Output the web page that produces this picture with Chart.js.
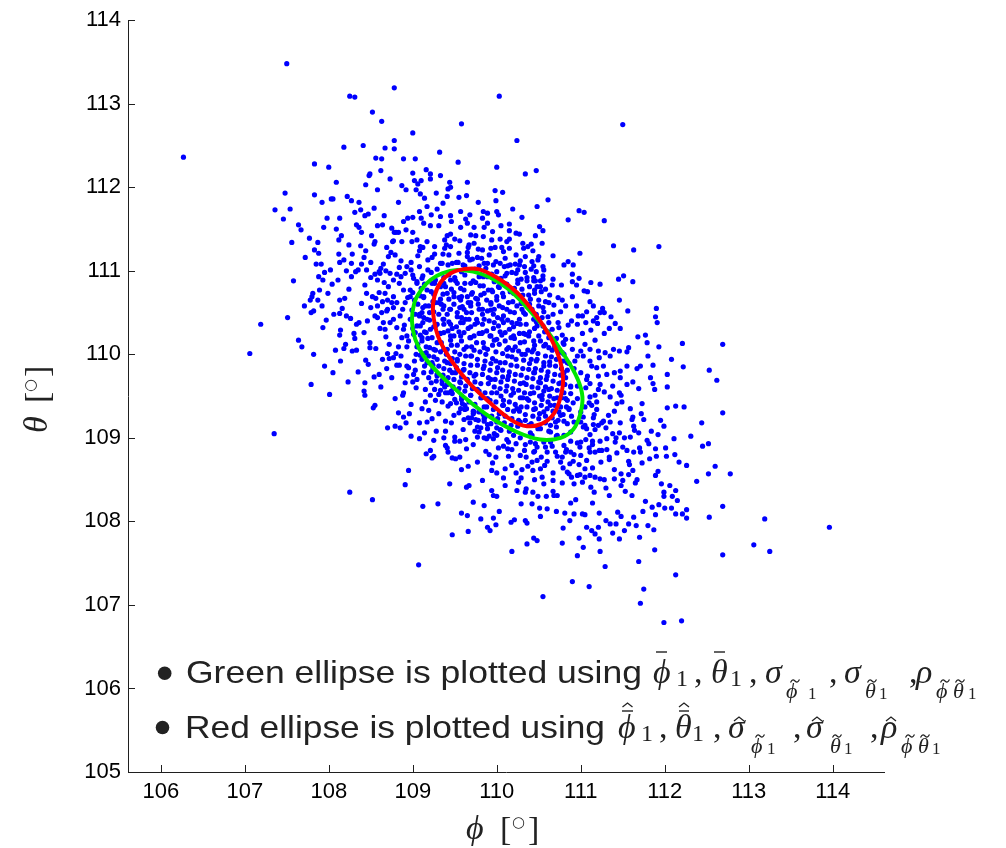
<!DOCTYPE html>
<html>
<head>
<meta charset="utf-8">
<title>phi-theta scatter</title>
<script src="https://cdn.jsdelivr.net/npm/chart.js@4"></script>
<style>
  html, body { margin: 0; padding: 0; background: #fff; }
  #wrap { width: 1006px; height: 848px; }
</style>
</head>
<body>
<div id="wrap"><canvas id="scatterChart" width="1006" height="848"></canvas></div>
<script>
// axis ranges and tick values
const xRange = [105.61, 114.61];
const yRange = [105, 114];
const xTicks = [106, 107, 108, 109, 110, 111, 112, 113, 114];
const yTicks = [105, 106, 107, 108, 109, 110, 111, 112, 113, 114];

const noteLines = ["Green ellipse is plotted using", "Red ellipse is plotted using"];

// outlines of the two ellipses, [phi, theta] in degrees
const greenEllipse = [
  [108.99, 110.40], [109.02, 110.62], [109.10, 110.77], [109.21, 110.89], [109.35, 110.97],
  [109.53, 111.01], [109.72, 110.99], [109.92, 110.92], [110.14, 110.78], [110.36, 110.56],
  [110.60, 110.28], [110.81, 109.98], [110.96, 109.71], [111.02, 109.49], [110.99, 109.27],
  [110.91, 109.10], [110.76, 109.00], [110.52, 108.98], [110.24, 109.07], [109.92, 109.25],
  [109.61, 109.49], [109.33, 109.75], [109.13, 109.98], [109.03, 110.18]
];
const redEllipse = [
  [109.24, 110.52], [109.26, 110.70], [109.33, 110.86], [109.45, 110.97], [109.61, 111.02],
  [109.78, 111.02], [110.00, 110.92], [110.24, 110.74], [110.46, 110.48], [110.64, 110.20],
  [110.75, 109.94], [110.79, 109.71], [110.76, 109.49], [110.68, 109.29], [110.54, 109.17],
  [110.36, 109.14], [110.18, 109.21], [109.92, 109.42], [109.66, 109.67], [109.45, 109.94],
  [109.30, 110.22]
];

// estimated (phi, theta) samples
const samples = [
  [106.27,112.36],
  [107.50,113.48],[108.78,113.19],[108.25,113.09],[108.31,113.08],[110.03,113.09],[108.52,112.90],[108.63,112.79],[109.58,112.76],[109.00,112.65],[110.24,112.56],
  [108.78,112.56],[108.78,112.46],[108.67,112.47],[108.41,112.50],[108.18,112.48],[109.32,112.42],[107.83,112.28],[108.00,112.24],[108.56,112.35],[108.63,112.34],
  [108.89,112.34],[109.03,112.34],[109.54,112.30],[110.00,112.24],[110.34,112.16],[108.62,112.20],[108.49,112.16],[108.48,112.14],[108.73,112.10],[109.00,112.17],
  [109.21,112.16],[109.21,112.10],[109.33,112.14],[109.02,112.08],[109.10,112.08],[109.06,112.04],[109.44,112.06],[109.45,112.00],[109.65,112.06],[108.92,111.97],
  [109.04,111.97],[109.09,111.92],[109.98,111.96],[110.07,111.94],[107.48,111.93],[107.83,111.91],[108.05,111.86],[108.03,111.86],[107.92,111.82],[108.27,111.84],
  [108.36,111.82],[108.83,111.82],[109.14,111.87],[109.41,111.89],[109.55,111.88],[109.64,111.90],[109.99,111.84],[107.36,111.73],[107.54,111.74],[107.46,111.62],
  [107.67,111.49],[107.56,111.34],[107.77,111.39],[107.83,111.25],[107.87,111.34],[107.88,111.21],[107.85,111.08],[107.91,111.08],[107.94,111.52],[108.09,111.50],
  [108.15,111.42],[108.13,111.63],[108.31,111.70],[108.38,111.73],[108.43,111.66],[108.47,111.68],[108.54,111.75],[108.58,111.54],[108.64,111.55],[108.66,111.66],
  [108.36,111.52],[108.39,111.46],[108.24,111.31],[108.38,111.30],[108.44,111.24],[108.54,111.32],[108.55,111.35],[108.28,111.20],[108.12,111.20],[108.13,111.10],
  [108.27,111.09],[108.39,111.08],[108.02,111.01],[108.21,111.00],[108.32,110.99],[108.35,111.01],[108.45,111.01],[108.50,111.10],[108.65,111.08],[108.71,111.17],
  [108.79,111.19],[108.76,111.35],[108.77,111.36],[108.78,111.46],[108.80,111.46],[108.75,111.51],[108.83,111.46],[108.89,111.59],[108.94,111.63],[109.00,111.64],
  [109.10,111.63],[109.17,111.77],[109.08,111.71],[109.29,111.74],[109.36,111.81],[109.21,111.54],[109.13,111.57],[109.00,111.46],[108.99,111.35],[109.05,111.37],
  [109.09,111.29],[109.12,111.28],[109.17,111.35],[109.31,111.54],[109.22,111.67],[109.33,111.65],[109.45,111.66],[109.57,111.71],[109.68,111.67],[109.46,111.59],
  [109.57,111.52],[109.65,111.57],[109.73,111.52],[109.84,111.71],[109.89,111.69],[109.83,111.63],[110.00,111.71],[110.02,111.67],[109.89,111.57],[109.85,111.52],
  [110.05,111.54],[110.15,111.56],[110.30,111.64],[110.15,111.48],[110.23,111.45],[110.27,111.44],[110.15,111.38],[110.04,111.38],[109.94,111.37],[109.84,111.41],
  [109.75,111.42],[109.69,111.43],[109.67,111.31],[109.66,111.28],[109.56,111.36],[109.45,111.44],[109.41,111.42],[109.38,111.37],[109.40,111.31],[109.45,111.29],
  [109.36,111.20],[109.43,111.19],[109.26,111.20],[109.26,111.29],[109.23,111.16],[109.33,111.09],[109.42,111.07],[109.47,111.09],[109.54,111.10],[109.65,111.22],
  [109.65,111.17],[109.68,111.13],[109.78,111.26],[109.77,111.16],[109.83,111.25],[109.93,111.27],[109.98,111.28],[110.06,111.28],[110.15,111.27],[110.23,111.19],
  [110.31,111.33],[110.37,111.29],[110.34,111.17],[110.27,111.07],[110.16,111.07],[110.04,111.09],[109.96,111.07],[109.89,111.09],[109.79,111.06],[110.12,110.97],
  [110.23,110.97],[110.34,110.98],[110.36,110.88],[110.25,110.89],[110.21,110.79],[110.31,110.71],
  [107.71,110.58],[107.78,110.65],[107.80,110.69],[107.81,110.73],[107.89,110.77],[107.87,110.65],[107.79,110.50],[107.82,110.52],[107.92,110.58],[107.99,110.73],
  [107.88,110.93],[107.93,110.89],[108.11,110.89],[108.13,110.65],[108.19,110.67],[108.06,110.48],[108.13,110.49],[108.21,110.46],[108.26,110.43],[107.97,110.41],
  [107.93,110.32],[108.13,110.23],[108.30,110.25],[108.31,110.19],[108.36,110.38],[108.42,110.26],[107.19,110.36],[107.64,110.17],[108.27,110.93],[108.43,110.83],
  [108.45,110.73],[108.50,110.56],[108.58,110.58],[108.56,110.67],[108.60,110.74],[108.50,110.92],[108.58,110.89],[108.60,110.99],[108.68,111.00],[108.73,110.97],
  [108.77,110.89],[108.81,110.96],[108.84,110.85],[108.93,111.05],[108.98,111.01],[109.00,110.95],[108.91,110.97],[108.67,110.73],[108.70,110.65],[108.77,110.69],
  [108.75,110.62],[108.63,110.50],[108.70,110.54],[108.77,110.56],[108.65,110.38],[108.73,110.38],[108.77,110.42],[108.67,110.30],[108.61,110.31],[108.85,110.46],
  [108.88,110.54],[108.91,110.62],[108.97,110.69],[108.89,110.77],[108.81,110.32],[108.89,110.30],[108.87,110.20],[108.93,110.22],
  [109.05,110.85],[109.11,110.91],[109.17,110.77],[109.13,110.69],[109.19,110.58],[109.11,110.50],[109.17,110.42],[109.09,110.34],[109.16,110.26],[109.11,110.20],
  [109.37,110.85],[109.45,110.89],[109.53,110.85],[109.61,110.77],[109.69,110.85],[109.79,110.93],[109.89,110.93],[109.41,110.73],[109.49,110.69],[109.57,110.65],
  [109.65,110.69],[109.75,110.67],[109.85,110.73],[109.94,110.77],[110.02,110.81],[110.08,110.69],[110.00,110.65],[109.93,110.62],[109.37,110.58],[109.45,110.54],
  [109.53,110.50],[109.61,110.54],[109.69,110.58],[109.79,110.54],[109.89,110.52],[109.97,110.54],[110.12,110.54],[110.24,110.58],[110.32,110.50],[109.37,110.42],
  [109.45,110.36],[109.57,110.38],[109.67,110.42],[109.77,110.38],[109.85,110.42],[109.97,110.38],[110.06,110.42],[110.18,110.38],[110.28,110.36],[109.37,110.26],
  [109.49,110.22],[109.61,110.26],[109.73,110.22],[109.83,110.26],[109.93,110.22],[110.00,110.18],[110.10,110.26],[110.20,110.22],[110.34,110.24],[109.31,110.62],
  [109.27,110.34],[108.97,110.42],[109.03,110.26],[109.23,110.85],
  [111.50,112.75],[110.47,112.20],[110.61,111.85],[110.48,111.77],[110.98,111.72],[111.04,111.70],[110.85,111.61],[111.28,111.60],[110.51,111.53],[110.55,111.48],
  [110.46,111.42],[110.54,111.33],[110.41,111.32],[110.67,111.18],[110.99,111.21],[111.39,111.30],[111.63,111.25],[111.93,111.29],[110.43,111.24],[110.50,111.17],
  [110.49,111.13],[110.44,111.06],[110.55,111.05],[110.56,111.01],[110.80,111.07],[110.85,111.11],[110.91,111.07],[110.90,110.96],[110.55,110.94],[110.48,110.81],
  [110.67,110.90],[110.66,110.83],[110.52,110.88],[110.98,110.91],[110.90,110.87],[110.95,110.83],[111.12,110.86],[111.23,110.84],[111.45,110.90],[111.51,110.94],
  [111.62,110.87],[110.77,110.83],[110.53,110.75],[110.63,110.71],[110.73,110.68],[110.78,110.65],[110.45,110.73],[111.04,110.76],[111.08,110.75],[110.90,110.69],
  [111.46,110.65],[110.82,110.58],[110.95,110.58],[111.15,110.58],[111.26,110.55],[111.90,110.55],[111.89,110.45],[111.91,110.38],[110.56,110.51],[110.67,110.48],
  [110.76,110.51],[110.89,110.40],[110.97,110.46],[111.02,110.46],[111.07,110.51],[111.19,110.44],[111.15,110.40],[111.23,110.50],[111.28,110.50],[111.20,110.37],
  [110.85,110.35],[110.96,110.36],[111.06,110.38],[111.34,110.31],[111.41,110.37],[111.47,110.31],[111.77,110.23],[111.28,110.25],[111.02,110.25],[110.90,110.18],
  [111.17,110.17],[110.78,110.23],[110.61,110.27],[110.48,110.34],[110.44,110.42],[110.73,110.38],
  [107.06,110.01],[107.82,110.00],[107.35,109.05],[107.79,109.64],[108.01,109.52],[108.05,109.78],[108.14,109.92],[108.08,110.05],[108.18,110.07],[108.33,110.05],
  [108.20,110.12],[108.43,109.66],[108.42,109.56],[108.43,109.51],[108.53,109.36],[108.55,109.39],[108.54,109.73],[108.60,109.76],[108.44,109.93],[108.49,110.08],
  [108.56,110.07],[108.64,109.94],[108.69,109.83],[108.70,110.01],[108.75,109.72],[108.72,109.95],[108.77,109.96],[108.81,109.87],[108.84,109.87],[108.86,109.98],
  [108.83,109.30],[108.89,109.25],[108.92,109.18],[108.70,109.12],[108.79,109.14],[108.85,109.12],[108.98,109.02],[108.91,109.66],[108.89,109.54],[108.88,109.51],
  [108.93,109.74],[108.98,109.40],[109.04,109.60],[109.00,109.67],[109.01,109.76],[109.03,109.81],[108.95,109.84],[109.02,109.92],[108.93,110.09],[109.04,110.00],
  [108.95,108.61],[108.91,108.44],[108.25,108.35],[108.52,108.26],[109.12,108.18],[109.30,108.21],[109.07,107.48],[109.47,107.84],[109.66,107.88],[109.58,108.10],
  [109.65,108.07],[109.44,108.45],[109.64,108.41],[109.67,108.43],[109.72,108.23],[109.85,108.19],[109.81,108.03],[109.89,107.93],[109.92,107.89],[109.99,107.96],
  [110.18,107.64],[110.17,107.99],[110.34,108.01],[110.36,107.73],[110.29,108.21],[110.24,108.37],[110.34,108.35],[110.35,108.39],[110.10,108.43],[109.94,108.37],
  [110.00,108.30],[109.96,108.31],[109.94,108.61],[110.00,108.58],[110.10,108.63],[110.23,108.58],[110.30,108.62],[110.37,108.66],[110.18,108.67],[110.29,108.52],
  [110.08,108.52],[109.58,108.62],[109.66,108.66],[109.47,108.76],[109.51,108.75],[109.56,108.77],[109.23,108.76],[109.25,108.78],[109.16,108.81],[109.21,108.85],
  [109.42,108.83],[109.41,108.88],[109.39,108.91],[109.64,108.87],[109.63,108.98],[109.50,109.01],[109.56,108.96],[109.39,109.08],[109.37,109.00],[109.28,109.08],
  [109.25,108.97],[109.14,109.06],[109.08,108.99],[109.08,109.18],[109.17,109.19],[109.23,109.23],[109.31,109.29],[109.39,109.20],[109.46,109.18],[109.61,109.22],
  [109.77,109.01],[109.79,109.07],[109.74,109.08],[109.89,109.11],[109.91,109.02],[109.88,108.99],[109.96,108.99],[110.00,109.03],[110.05,109.09],[110.14,108.95],
  [110.13,108.87],[110.08,108.90],[110.28,108.79],[110.33,108.85],[110.34,108.92],[109.87,108.84],[109.91,108.80],[109.99,108.77],[110.23,108.93],
  [109.11,109.94],[109.13,109.78],[109.15,109.58],[109.15,109.43],[109.11,109.35],[109.19,109.33],[109.21,109.51],[109.26,109.58],[109.29,109.74],[109.23,109.90],
  [109.35,109.43],[109.39,109.54],[109.45,109.41],[109.49,109.27],[109.57,109.35],[109.66,109.24],[109.73,109.31],[109.77,109.13],[109.85,109.23],[109.41,109.90],
  [109.47,109.78],[109.53,109.94],[109.57,109.66],[109.61,109.82],[109.69,109.98],[109.73,109.74],[109.77,109.58],[109.85,109.86],[109.93,109.70],[109.89,109.47],
  [110.00,109.54],[110.04,109.90],[110.14,109.74],[110.08,109.39],[110.20,109.54],[110.24,109.35],[110.32,109.66],[110.30,110.00],[109.61,110.06],[109.85,110.08],
  [110.12,110.06],[110.36,109.47],[110.28,109.19],[110.38,109.15],[109.69,109.51],[109.37,110.06],[109.25,110.06],[109.05,109.70],
  [113.96,107.93],[112.69,110.12],[112.21,110.13],[111.93,110.09],[112.53,109.81],[112.62,109.69],[112.22,109.85],[112.69,109.30],[112.44,109.18],[112.52,108.93],
  [112.45,108.90],[112.60,108.66],[112.52,108.57],[112.78,108.57],[112.69,108.18],[112.53,108.05],[113.19,108.03],[113.06,107.72],[113.25,107.64],[112.69,107.60],
  [112.26,108.67],[112.26,108.14],[112.26,108.04],[112.21,108.09],[112.13,108.09],[112.13,107.36],[112.20,106.81],[111.99,106.79],[111.71,107.02],[111.75,107.19],
  [111.69,107.52],[111.88,107.66],[111.29,107.46],[111.23,107.64],[111.10,107.22],[110.90,107.28],[110.96,107.59],[111.03,107.69],[110.78,107.74],[110.55,107.10],
  [110.48,107.77],[110.44,107.80],[111.22,107.79],[110.98,107.80],[111.17,107.85],[111.07,107.93],[111.13,107.89],[111.21,107.93],[111.46,107.79],[111.52,107.89],
  [111.57,107.97],[111.66,107.95],[111.70,107.81],[111.80,107.95],[111.87,107.90],[111.35,107.97],[111.30,108.01],[111.42,107.97],[111.48,108.06],[111.44,108.11],
  [111.22,108.10],[111.02,108.09],[111.05,108.08],[110.92,108.09],[110.87,108.01],[110.81,108.10],[110.88,108.22],[111.14,108.22],[110.60,108.15],[110.51,108.16],
  [110.52,108.06],[111.74,108.12],[111.89,108.08],[111.85,108.17],[111.93,108.20],[112.00,108.16],[112.08,108.16],[112.13,108.37],[112.09,108.30],[112.06,108.43],
  [111.99,108.35],[111.99,108.30],[111.77,108.24],[111.61,108.31],[111.53,108.36],[111.67,108.50],[111.65,108.46],[111.48,108.43],[111.40,108.51],[111.48,108.57],
  [111.28,108.50],[111.30,108.40],[111.23,108.51],[111.16,108.35],[111.11,108.55],[111.17,108.53],[111.05,108.53],[110.99,108.56],[111.02,108.47],[110.92,108.45],
  [110.96,108.55],[110.89,108.53],[110.86,108.57],[110.78,108.46],[110.72,108.31],[110.68,108.31],[110.67,108.36],[110.59,108.30],[110.49,108.30],[110.43,108.35],
  [110.56,108.45],[110.54,108.53],[110.45,108.50],[110.43,108.61],[110.52,108.63],[110.57,108.67],[110.48,108.73],[110.42,108.71],[110.67,108.49],[110.79,108.64],
  [110.84,108.59],[111.05,108.63],[111.14,108.64],[111.40,108.62],[111.50,108.49],[111.62,108.61],[111.89,108.55],[111.92,108.60],[112.12,108.80],[112.02,108.78],
  [111.90,108.78],[111.82,108.75],[111.70,108.88],[111.71,108.83],[111.63,108.83],[111.58,108.68],[111.57,108.72],[111.55,108.85],[111.50,108.89],[111.64,109.09],
  [111.59,109.01],[111.63,109.14],[111.61,109.22],[111.62,109.25],[111.52,109.00],[111.46,109.06],[111.42,109.00],[111.38,109.05],[111.41,108.95],[111.31,108.99],
  [111.35,109.19],[111.27,109.20],[111.21,109.15],[111.25,109.18],[111.15,109.16],[111.15,109.24],[111.23,108.96],[111.14,108.96],[111.10,108.88],[111.11,108.83],
  [111.17,108.83],[111.22,108.85],[111.31,108.86],[111.34,108.77],[111.34,108.74],[111.00,108.79],[110.92,108.80],[110.88,108.83],[110.82,108.83],[110.78,108.77],
  [110.76,108.71],[110.91,108.72],[111.07,108.73],[110.99,108.89],[111.00,108.95],[110.80,108.91],[110.70,108.83],[110.60,108.83],[110.58,108.89],[110.64,108.95],
  [110.56,108.95],[110.48,108.89],[110.44,108.83],[110.72,109.03],[111.11,109.04],[111.17,109.10],[111.07,109.11],[111.05,109.15],[111.00,109.19],[111.03,109.25],
  [111.00,109.31],[111.05,109.37],[111.13,109.39],[111.19,109.43],[111.11,109.49],[111.17,109.51],[111.21,109.58],[111.23,109.64],[111.11,109.65],[111.07,109.70],
  [111.21,109.74],[111.19,109.84],[111.13,109.86],[111.11,109.92],[111.03,109.98],[111.00,110.04],[111.11,110.06],[111.21,110.04],[111.29,110.02],[111.35,109.98],
  [111.39,110.06],[111.46,110.04],[111.55,110.03],[111.57,110.08],[111.79,110.14],[111.80,109.98],[111.71,109.86],[111.67,109.83],[111.55,109.86],[111.47,109.80],
  [111.40,109.78],[111.31,109.76],[111.47,109.72],[111.55,109.64],[111.62,109.67],[111.46,109.54],[111.35,109.49],[111.49,109.43],[111.43,109.41],[111.59,109.35],
  [111.73,109.41],[111.69,109.59],[111.86,109.87],[111.86,109.65],[111.88,109.58],[112.03,109.76],[112.03,109.61],[112.03,109.36],[112.13,109.38],[112.23,109.37],
  [111.99,109.14],[111.75,109.22],[111.84,109.08],[111.92,109.04],[112.11,108.99],[111.89,108.87],[111.79,108.97],
  [110.44,110.06],[110.56,110.10],[110.48,109.94],[110.56,109.86],[110.44,109.78],[110.52,109.66],[110.60,109.74],[110.44,109.54],[110.54,109.51],[110.62,109.58],
  [110.46,109.35],[110.56,109.31],[110.64,109.39],[110.68,109.47],[110.76,109.66],[110.80,109.78],[110.84,109.90],[110.88,109.62],[110.82,109.47],[110.86,109.35],
  [110.76,109.27],[110.70,109.19],[110.84,109.17],[110.96,109.47],[110.96,109.62],[111.00,109.78],[110.96,109.98],[110.90,110.06],[110.80,110.12],[110.64,109.07],
  [110.52,109.11],[110.42,109.03],[110.88,109.07],[110.92,109.19],[110.80,109.03],
  // upper-left shoulder
  [108.12,111.37],[108.33,111.55],[108.51,111.42],[108.69,111.28],[108.92,111.49],[109.06,111.18],[108.18,111.13],[108.42,111.16],[108.61,110.97],[108.86,111.12],
  [108.04,110.84],[108.24,110.78],[108.39,110.61],[108.55,110.46],[108.71,110.81],[108.94,110.68],[108.16,110.55],[108.33,110.36],[108.49,110.14],[108.68,110.21],
  [108.83,110.09],[108.28,110.04],[108.47,109.88],[108.62,109.61],[108.79,109.47],[108.96,109.29],[108.35,109.79],[108.14,110.29],[107.95,110.98],[107.72,111.16],
  [107.98,111.63],[108.22,111.89],[108.58,111.97],[108.87,112.02],[109.16,112.21],[109.42,111.98],[108.44,112.03],[108.09,112.06],[107.64,111.55],[107.58,110.88],
  [107.51,110.44],[107.68,110.09],[107.95,109.86],[108.23,109.67],[109.78,111.82],[110.19,111.74],[109.28,111.93],[109.63,111.62],[109.95,111.47],[110.32,111.27],
  [110.44,110.92],[110.10,111.15],
  // lower-right shoulder
  [110.63,109.91],[110.78,110.02],[110.92,109.83],[111.08,109.74],[111.27,109.86],[111.38,109.62],[111.19,109.34],[111.33,109.27],[111.47,109.18],[111.69,109.06],
  [111.81,108.93],[111.06,108.98],[110.87,108.69],[110.67,108.58],[111.24,108.71],[111.43,108.82],[111.73,108.70],[112.01,108.88],[112.17,108.71],[111.96,108.45],
  [111.57,108.56],[111.34,108.31],[111.12,108.41],[110.94,108.26],[110.71,108.12],[110.42,108.21],[110.21,108.02],[110.03,108.12],[110.26,108.47],[110.53,108.77],
  [109.83,108.49],[109.77,108.71],[110.14,108.78],[110.46,108.93],[110.71,109.02],[111.48,109.51],[111.72,109.29],[111.95,109.21],[112.31,109.02],[112.38,108.48],
  [112.15,108.25],[111.63,108.05],[111.38,107.86],[110.79,107.92],[110.36,107.98],[109.96,108.04],[111.83,109.72],[112.08,109.94],[111.68,110.21],[111.36,110.45],
  [111.56,110.52],[111.11,110.63],
  // band between and around the ellipses
  [109.05,110.09],[109.14,109.86],[109.22,109.66],[109.31,109.52],[109.42,109.38],[109.55,109.30],[109.68,109.18],[109.81,109.12],[109.97,109.05],[110.12,108.98],
  [109.09,109.99],[109.19,109.72],[109.27,109.45],[109.38,109.61],[109.50,109.46],[109.62,109.34],[109.75,109.22],[109.89,109.16],[110.04,109.10],[110.20,109.03],
  [109.01,110.24],[109.08,110.48],[109.16,110.02],[109.24,109.83],[109.35,109.69],[109.46,109.56],[109.59,109.41],[109.72,109.29],[109.86,109.25],[110.00,109.19],
  [108.58,110.44],[108.66,110.86],[108.72,110.12],[108.81,110.62],[108.86,110.93],[108.90,110.35],[108.95,110.16],[108.62,111.03],[108.74,111.22],[108.87,111.35],
  [108.52,110.69],[108.69,110.52],[108.80,110.01],[108.93,109.86],[108.98,111.10],[109.08,111.24],[108.55,110.96],[108.46,110.40],[108.84,111.04],[108.64,110.63],
  [109.38,111.27],[109.55,111.21],[109.73,111.33],[109.91,111.19],[110.08,111.23],[110.22,111.08],[110.42,111.11],[110.47,110.99],[110.58,110.78],[110.68,110.59],
  [109.50,111.38],[109.82,111.15],[110.12,111.35],[110.33,111.05],[110.55,110.90],
  [111.06,109.60],[111.10,109.42],[111.03,109.13],[110.96,108.94],[110.83,108.86],[110.66,108.90],[110.45,108.84],[110.28,109.00],[110.93,109.92],[110.82,110.18],
  [111.16,109.28],[111.22,109.96],[111.28,109.55],[111.14,108.92],[110.88,108.96],[110.60,108.72],[110.35,108.77],[111.30,109.12],[111.05,110.12],[110.74,110.32],
  [111.40,109.32],[111.25,108.85],[110.98,108.68],[110.72,108.78],[111.12,110.29],
  [109.72,108.92],[109.85,109.00],[110.02,108.88],[110.18,108.86],[109.95,108.70],[110.40,108.95],[109.60,109.10],[109.50,108.96],
  // dense core
  [109.18,111.13],[109.52,111.10],[109.71,111.14],[109.99,111.11],[110.28,111.12],
  [109.08,111.05],[109.29,111.02],[109.62,111.06],[109.87,111.03],[110.09,111.05],[110.41,111.02],
  [109.22,110.98],[109.43,110.95],[109.58,110.99],[109.94,110.96],[110.18,110.98],
  [109.01,110.91],[109.27,110.89],[109.50,110.92],[109.72,110.88],[110.05,110.91],[110.29,110.90],[110.46,110.88],
  [109.14,110.84],[109.33,110.81],[109.62,110.85],[109.84,110.82],[110.12,110.84],[110.39,110.81],
  [108.97,110.77],[109.22,110.75],[109.46,110.78],[109.71,110.74],[109.90,110.77],[110.16,110.75],[110.45,110.77],
  [109.09,110.70],[109.36,110.72],[109.58,110.69],[109.81,110.71],[110.07,110.73],[110.27,110.70],
  [109.02,110.65],[109.24,110.63],[109.43,110.66],[109.66,110.62],[109.88,110.65],[110.19,110.63],[110.40,110.66],[110.58,110.63],
  [109.15,110.58],[109.34,110.60],[109.59,110.57],[109.78,110.60],[110.03,110.58],[110.29,110.61],[110.50,110.58],
  [108.99,110.53],[109.25,110.51],[109.44,110.54],[109.70,110.50],[109.93,110.53],[110.16,110.51],[110.42,110.54],
  [109.08,110.46],[109.31,110.48],[109.53,110.45],[109.83,110.48],[110.08,110.46],[110.34,110.48],[110.61,110.45],
  [109.20,110.41],[109.43,110.39],[109.63,110.42],[109.91,110.40],[110.13,110.41],[110.47,110.39],
  [109.05,110.34],[109.29,110.36],[109.52,110.33],[109.74,110.36],[110.02,110.34],[110.24,110.37],[110.55,110.34],
  [109.21,110.30],[109.42,110.28],[109.66,110.31],[109.88,110.28],[110.15,110.30],[110.39,110.27],[110.66,110.30],
  [109.09,110.23],[109.32,110.25],[109.57,110.22],[109.79,110.25],[110.06,110.23],[110.27,110.25],[110.50,110.22],
  [109.18,110.19],[109.45,110.17],[109.69,110.20],[109.97,110.17],[110.21,110.19],[110.44,110.16],[110.71,110.19],
  [109.06,110.12],[109.29,110.14],[109.53,110.11],[109.76,110.14],[110.03,110.12],[110.33,110.15],[110.58,110.12],
  [109.20,110.08],[109.41,110.06],[109.64,110.09],[109.89,110.06],[110.14,110.08],[110.37,110.05],[110.62,110.08],
  [109.12,110.01],[109.33,110.03],[109.56,110.00],[109.80,110.03],[110.07,110.01],[110.26,110.04],[110.49,110.01],[110.73,110.03],
  [109.25,109.97],[109.47,109.95],[109.70,109.98],[109.95,109.95],[110.18,109.97],[110.41,109.94],[110.65,109.97],
  [109.17,109.90],[109.38,109.92],[109.61,109.89],[109.86,109.92],[110.10,109.90],[110.32,109.93],[110.56,109.90],[110.79,109.92],
  [109.31,109.86],[109.52,109.84],[109.77,109.87],[110.01,109.84],[110.24,109.86],[110.46,109.83],[110.70,109.86],
  [109.22,109.79],[109.44,109.81],[109.68,109.78],[109.92,109.81],[110.15,109.79],[110.38,109.82],[110.61,109.79],[110.84,109.81],
  [109.36,109.75],[109.58,109.73],[109.83,109.76],[110.07,109.73],[110.29,109.75],[110.52,109.72],[110.76,109.75],
  [109.28,109.68],[109.49,109.70],[109.74,109.67],[109.98,109.70],[110.21,109.68],[110.43,109.71],[110.67,109.68],
  [109.41,109.64],[109.63,109.62],[109.90,109.65],[110.12,109.62],[110.35,109.64],[110.58,109.61],[110.81,109.64],
  [109.33,109.57],[109.55,109.59],[109.79,109.56],[110.04,109.59],[110.26,109.57],[110.49,109.60],[110.72,109.57],
  [109.47,109.53],[109.69,109.51],[109.94,109.54],[110.17,109.51],[110.40,109.53],[110.63,109.50],[110.88,109.53],
  [109.58,109.46],[109.82,109.48],[110.08,109.45],[110.31,109.48],[110.54,109.46],[110.77,109.48],
  [109.52,109.42],[109.74,109.40],[109.99,109.43],[110.22,109.40],[110.45,109.42],[110.69,109.39],[110.91,109.42],
  [109.64,109.35],[109.88,109.37],[110.13,109.34],[110.36,109.37],[110.60,109.35],[110.83,109.37],
  [109.79,109.31],[110.03,109.29],[110.27,109.32],[110.51,109.29],[110.74,109.31],
  [109.70,109.24],[109.94,109.26],[110.18,109.23],[110.43,109.26],[110.66,109.24],[110.89,109.26],
  [109.85,109.20],[110.09,109.18],[110.34,109.21],[110.58,109.18],[110.80,109.20],
  [110.00,109.12],[110.25,109.14],[110.49,109.11],[110.71,109.13],
  [110.15,109.08],[110.40,109.06],[110.62,109.08],
  [109.35,111.09],[109.60,111.07],[109.85,111.09],[110.13,111.06],
  [109.18,111.01],[109.46,110.99],[109.74,111.02],[110.00,110.99],[110.25,111.01],
  [109.12,110.94],[109.37,110.92],[109.62,110.95],[109.84,110.93],[110.10,110.94],[110.36,110.92],
  [109.05,110.87],[109.26,110.85],[109.51,110.88],[109.75,110.86],[109.97,110.87],[110.25,110.85],[110.44,110.88],
  [109.10,110.79],[109.39,110.81],[109.57,110.79],[109.80,110.82],[110.03,110.80],[110.30,110.78],[110.52,110.81],
  [109.00,110.74],[109.25,110.72],[109.49,110.74],[109.70,110.72],[109.95,110.75],[110.20,110.73],[110.38,110.71],
  [109.13,110.68],[109.33,110.66],[109.55,110.68],[109.77,110.66],[110.00,110.69],[110.28,110.67],[110.50,110.65],
  [109.06,110.60],[109.27,110.62],[109.49,110.60],[109.69,110.62],[109.93,110.60],[110.14,110.62],[110.39,110.60],[110.62,110.62],
  [109.12,110.56],[109.36,110.54],[109.56,110.56],[109.83,110.54],[110.07,110.56],[110.30,110.54],[110.55,110.56],
  [109.03,110.48],[109.20,110.50],[109.41,110.48],[109.64,110.50],[109.96,110.48],[110.21,110.50],[110.47,110.48],
  [109.13,110.44],[109.36,110.42],[109.58,110.44],[109.76,110.42],[110.01,110.44],[110.27,110.42],[110.54,110.44],
  [109.12,110.38],[109.37,110.36],[109.60,110.38],[109.83,110.36],[110.08,110.38],[110.35,110.36],[110.62,110.38],
  [109.00,110.31],[109.25,110.33],[109.47,110.31],[109.69,110.33],[109.96,110.31],[110.20,110.33],[110.45,110.31],
  [109.14,110.27],[109.33,110.25],[109.55,110.27],[109.82,110.25],[110.04,110.27],[110.32,110.25],[110.57,110.27],
  [109.23,110.20],[109.45,110.22],[109.68,110.20],[109.92,110.22],[110.17,110.20],[110.38,110.22],[110.62,110.20],
  [109.11,110.16],[109.34,110.14],[109.58,110.16],[109.84,110.14],[110.10,110.16],[110.28,110.14],[110.52,110.16],[110.79,110.14],
  [109.16,110.09],[109.46,110.11],[109.70,110.09],[109.95,110.11],[110.22,110.09],[110.45,110.11],[110.69,110.09],
  [109.27,110.05],[109.50,110.03],[109.73,110.05],[109.99,110.03],[110.19,110.05],[110.42,110.03],[110.66,110.05],
  [109.19,109.98],[109.40,110.00],[109.63,109.98],[109.87,110.00],[110.13,109.98],[110.34,110.00],[110.58,109.98],[110.80,110.00],
  [109.29,109.94],[109.53,109.92],[109.77,109.94],[109.99,109.92],[110.23,109.94],[110.47,109.92],[110.71,109.94],
  [109.24,109.87],[109.45,109.89],[109.69,109.87],[109.93,109.89],[110.17,109.87],[110.39,109.89],[110.63,109.87],[110.86,109.89],
  [109.37,109.83],[109.60,109.81],[109.84,109.83],[110.07,109.81],[110.31,109.83],[110.53,109.81],[110.77,109.83],
  [109.29,109.76],[109.51,109.78],[109.75,109.76],[110.00,109.78],[110.22,109.76],[110.45,109.78],[110.69,109.76],
  [109.42,109.72],[109.65,109.70],[109.90,109.72],[110.13,109.70],[110.36,109.72],[110.59,109.70],[110.82,109.72],
  [109.35,109.65],[109.56,109.67],[109.81,109.65],[110.05,109.67],[110.28,109.65],[110.50,109.67],[110.74,109.65],
  [109.48,109.61],[109.71,109.59],[109.97,109.61],[110.19,109.59],[110.42,109.61],[110.65,109.59],[110.88,109.61],
  [109.42,109.54],[109.62,109.56],[109.86,109.54],[110.11,109.56],[110.33,109.54],[110.56,109.56],[110.80,109.54],
  [109.58,109.50],[109.81,109.48],[110.05,109.50],[110.28,109.48],[110.51,109.50],[110.72,109.48],
  [109.67,109.43],[109.92,109.45],[110.15,109.43],[110.38,109.45],[110.61,109.43],[110.84,109.45],
  [109.62,109.39],[109.85,109.37],[110.07,109.39],[110.29,109.37],[110.53,109.39],[110.76,109.37],
  [109.72,109.32],[109.96,109.34],[110.20,109.32],[110.44,109.34],[110.67,109.32],[110.86,109.34],
  [109.84,109.28],[110.10,109.26],[110.34,109.28],[110.58,109.26],[110.79,109.28],
  [109.78,109.21],[110.01,109.23],[110.26,109.21],[110.50,109.23],[110.73,109.21],
  [109.93,109.17],[110.17,109.15],[110.41,109.17],[110.64,109.15]
];

const axisColor = "#1f1f1f";
const textColor = "#222";
const sans = '"Liberation Sans", Arial, sans-serif';
const serif = '"Liberation Serif", "DejaVu Serif", serif';

// repeat neighbours so the smoothed outline closes without a corner
function closedLoop(pts) {
  const n = pts.length;
  const ring = [pts[n - 1], ...pts, pts[0], pts[1]];
  return ring.map(([x, y]) => ({ x, y }));
}

function hideEnds(count) {
  return (ctx) => (ctx.p0DataIndex === 0 || ctx.p1DataIndex === count - 1 ? "rgba(0,0,0,0)" : undefined);
}

function bar(ctx, x1, x2, y) {
  ctx.fillRect(x1, y - 0.7, x2 - x1, 1.4);
}

function hat(ctx, xc, y, w) {
  ctx.beginPath();
  ctx.moveTo(xc - w / 2, y + 3);
  ctx.lineTo(xc, y - 1);
  ctx.lineTo(xc + w / 2, y + 3);
  ctx.stroke();
}

function tilde(ctx, xc, y, w) {
  ctx.beginPath();
  ctx.moveTo(xc - w / 2, y + 1.5);
  ctx.bezierCurveTo(xc - w / 4, y - 2.5, xc - w / 8, y - 1, xc, y);
  ctx.bezierCurveTo(xc + w / 8, y + 1, xc + w / 4, y + 2.5, xc + w / 2, y - 1.5);
  ctx.stroke();
}

function glyph(ctx, s, x, y, size, italic, family) {
  ctx.font = (italic ? "italic " : "") + size + "px " + (family || serif);
  ctx.fillText(s, x, y);
}

// sans text stretched to the width it takes in the figure
function note(ctx, s, x, y, width) {
  ctx.save();
  ctx.font = "32px " + sans;
  const w = ctx.measureText(s).width;
  ctx.translate(x, y);
  ctx.scale(width / w, 1);
  ctx.fillText(s, 0, 0);
  ctx.restore();
}

// inline math after each note line
function drawMathLine1(ctx, b) {
  glyph(ctx, "ϕ", 653, b, 34, true); bar(ctx, 656, 667, b - 31);
  glyph(ctx, "1", 676, b + 3, 24);
  glyph(ctx, ",", 694, b, 34);
  glyph(ctx, "θ", 711, b, 34, true); bar(ctx, 714, 725, b - 31);
  glyph(ctx, "1", 730, b + 3, 24);
  glyph(ctx, ",", 749, b, 34);
  glyph(ctx, "σ", 765, b, 34, true);
  glyph(ctx, "ϕ", 786, b + 15, 22, true); tilde(ctx, 795, b - 2, 9);
  glyph(ctx, "1", 808, b + 16, 17);
  glyph(ctx, ",", 829, b, 34);
  glyph(ctx, "σ", 844, b, 34, true);
  glyph(ctx, "θ", 865, b + 15, 22, true); tilde(ctx, 872, b - 2, 9);
  glyph(ctx, "1", 879, b + 16, 17);
  glyph(ctx, ",", 909, b, 34);
  glyph(ctx, "ρ", 916, b, 34, true);
  glyph(ctx, "ϕ", 936, b + 15, 22, true); tilde(ctx, 945, b - 2, 9);
  glyph(ctx, "θ", 953, b + 15, 22, true); tilde(ctx, 960, b - 2, 9);
  glyph(ctx, "1", 968, b + 16, 17);
}

function drawMathLine2(ctx, b) {
  glyph(ctx, "ϕ", 618, b, 34, true); bar(ctx, 622, 633, b - 27); hat(ctx, 627.5, b - 34, 10);
  glyph(ctx, "1", 641, b + 3, 24);
  glyph(ctx, ",", 659, b, 34);
  glyph(ctx, "θ", 675, b, 34, true); bar(ctx, 679, 689, b - 27); hat(ctx, 684, b - 34, 10);
  glyph(ctx, "1", 692, b + 3, 24);
  glyph(ctx, ",", 713, b, 34);
  glyph(ctx, "σ", 728, b, 34, true); hat(ctx, 739, b - 20, 10);
  glyph(ctx, "ϕ", 751, b + 15, 22, true); tilde(ctx, 760, b - 2, 9);
  glyph(ctx, "1", 767, b + 16, 17);
  glyph(ctx, ",", 793, b, 34);
  glyph(ctx, "σ", 806, b, 34, true); hat(ctx, 817, b - 20, 10);
  glyph(ctx, "θ", 830, b + 15, 22, true); tilde(ctx, 837, b - 2, 9);
  glyph(ctx, "1", 844, b + 16, 17);
  glyph(ctx, ",", 870, b, 34);
  glyph(ctx, "ρ", 881, b, 34, true); hat(ctx, 891, b - 20, 10);
  glyph(ctx, "ϕ", 901, b + 15, 22, true); tilde(ctx, 910, b - 2, 9);
  glyph(ctx, "θ", 918, b + 15, 22, true); tilde(ctx, 925, b - 2, 9);
  glyph(ctx, "1", 932, b + 16, 17);
}

const overlay = {
  id: "overlay",
  afterDraw(chart) {
    const { ctx, chartArea, scales } = chart;
    ctx.save();

    // tick marks pointing into the plot
    ctx.strokeStyle = axisColor;
    ctx.lineWidth = 1;
    ctx.beginPath();
    xTicks.forEach((v) => {
      const px = Math.round(scales.x.getPixelForValue(v)) + 0.5;
      ctx.moveTo(px, chartArea.bottom);
      ctx.lineTo(px, chartArea.bottom - 7);
    });
    yTicks.forEach((v) => {
      const py = Math.round(scales.y.getPixelForValue(v)) + 0.5;
      ctx.moveTo(chartArea.left, py);
      ctx.lineTo(chartArea.left + 7, py);
    });
    ctx.stroke();

    // notes with bullets
    ctx.fillStyle = textColor;
    ctx.strokeStyle = textColor;
    ctx.lineWidth = 1.3;
    ctx.textAlign = "left";
    ctx.textBaseline = "alphabetic";
    ctx.beginPath(); ctx.arc(164.7, 673.3, 6.8, 0, Math.PI * 2); ctx.fill();
    ctx.beginPath(); ctx.arc(162.5, 727.5, 6.8, 0, Math.PI * 2); ctx.fill();
    note(ctx, noteLines[0], 186, 683, 456);
    note(ctx, noteLines[1], 185, 738, 420);
    drawMathLine1(ctx, 683);
    drawMathLine2(ctx, 738);

    // x axis title
    glyph(ctx, "ϕ", 466, 839, 34, true);
    glyph(ctx, "[", 500, 840, 34);
    glyph(ctx, "○", 512, 827, 15, false, '"DejaVu Sans", sans-serif');
    glyph(ctx, "]", 528, 840, 34);

    // y axis title, rotated
    ctx.translate(47, 433);
    ctx.rotate(-Math.PI / 2);
    glyph(ctx, "θ", 0, 0, 34, true);
    glyph(ctx, "[", 30, 1, 34);
    glyph(ctx, "○", 41, -12, 15, false, '"DejaVu Sans", sans-serif');
    glyph(ctx, "]", 56, 1, 34);
    ctx.restore();
  }
};

const redData = closedLoop(redEllipse);
const greenData = closedLoop(greenEllipse);

new Chart(document.getElementById("scatterChart"), {
  type: "scatter",
  data: {
    datasets: [
      {
        type: "line",
        data: redData,
        borderColor: "rgb(255, 0, 0)",
        borderWidth: 4,
        tension: 0.4,
        pointRadius: 0,
        fill: false,
        borderCapStyle: "round",
        borderJoinStyle: "round",
        segment: { borderColor: hideEnds(redData.length) }
      },
      {
        type: "line",
        data: greenData,
        borderColor: "rgb(0, 230, 0)",
        borderWidth: 4,
        tension: 0.4,
        pointRadius: 0,
        fill: false,
        borderCapStyle: "round",
        borderJoinStyle: "round",
        segment: { borderColor: hideEnds(greenData.length) }
      },
      {
        data: samples.map(([x, y]) => ({ x, y })),
        pointRadius: 2.6,
        pointBorderWidth: 0,
        backgroundColor: "rgb(0, 0, 255)"
      }
    ]
  },
  options: {
    responsive: false,
    animation: false,
    events: [],
    layout: { padding: { top: 16, right: 122, left: 0, bottom: 0 } },
    plugins: { legend: { display: false }, tooltip: { enabled: false } },
    scales: {
      x: {
        type: "linear",
        min: xRange[0],
        max: xRange[1],
        afterBuildTicks: (scale) => { scale.ticks = xTicks.map((v) => ({ value: v })); },
        afterFit: (scale) => { scale.height = 76; },
        grid: { display: false, drawTicks: false },
        border: { display: true, color: axisColor, width: 1 },
        ticks: { color: "#000", padding: 7, maxRotation: 0, font: { family: sans, size: 22 } }
      },
      y: {
        type: "linear",
        min: yRange[0],
        max: yRange[1],
        afterBuildTicks: (scale) => { scale.ticks = yTicks.map((v) => ({ value: v })); },
        afterFit: (scale) => { scale.width = 128; },
        grid: { display: false, drawTicks: false },
        border: { display: true, color: axisColor, width: 1 },
        ticks: { color: "#000", padding: 7, font: { family: sans, size: 22 } }
      }
    }
  },
  plugins: [overlay]
});
</script>
</body>
</html>
